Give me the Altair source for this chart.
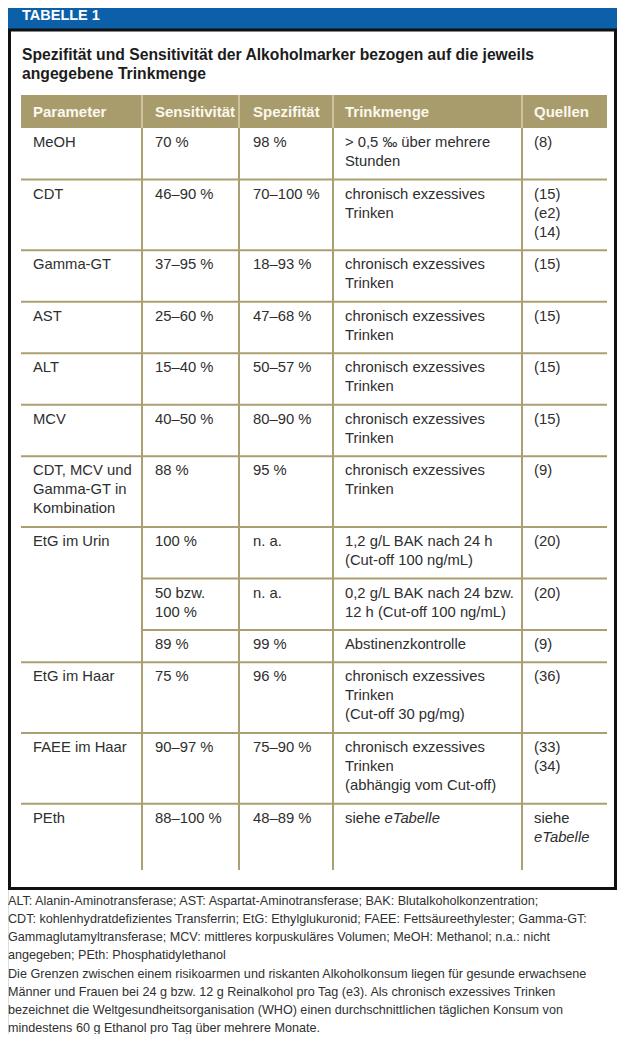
import altair as alt
import pandas as pd

# ---------------- content ----------------
table_title = "TABELLE 1"
subtitle_lines = [
    "Spezifität und Sensitivität der Alkoholmarker bezogen auf die jeweils",
    "angegebene Trinkmenge",
]
header_labels = ["Parameter", "Sensitivität", "Spezifität", "Trinkmenge", "Quellen"]

parameter = ["MeOH", "CDT", "Gamma-GT", "AST", "ALT", "MCV",
             "CDT, MCV und\nGamma-GT in\nKombination",
             "EtG im Urin", "", "", "EtG im Haar", "FAEE im Haar", "PEth"]
sensitivity = ["70 %", "46–90 %", "37–95 %", "25–60 %", "15–40 %", "40–50 %", "88 %",
               "100 %", "50 bzw.\n100 %", "89 %", "75 %", "90–97 %", "88–100 %"]
specificity = ["98 %", "70–100 %", "18–93 %", "47–68 %", "50–57 %", "80–90 %", "95 %",
               "n. a.", "n. a.", "99 %", "96 %", "75–90 %", "48–89 %"]
drinking = ["> 0,5 ‰ über mehrere\nStunden",
            "chronisch exzessives\nTrinken",
            "chronisch exzessives\nTrinken",
            "chronisch exzessives\nTrinken",
            "chronisch exzessives\nTrinken",
            "chronisch exzessives\nTrinken",
            "chronisch exzessives\nTrinken",
            "1,2 g/L BAK nach 24 h\n(Cut-off 100 ng/mL)",
            "0,2 g/L BAK nach 24 bzw.\n12 h (Cut-off 100 ng/mL)",
            "Abstinenzkontrolle",
            "chronisch exzessives\nTrinken\n(Cut-off 30 pg/mg)",
            "chronisch exzessives\nTrinken\n(abhängig vom Cut-off)",
            "siehe _eTabelle_"]
sources = ["(8)", "(15)\n(e2)\n(14)", "(15)", "(15)", "(15)", "(15)", "(9)",
           "(20)", "(20)", "(9)", "(36)", "(33)\n(34)", "siehe\n_eTabelle_"]
row_group = [0, 1, 2, 3, 4, 5, 6, 7, 7, 7, 8, 9, 10]

footnote_lines = [
    "ALT: Alanin-Aminotransferase; AST: Aspartat-Aminotransferase; BAK: Blutalkoholkonzentration;",
    "CDT: kohlenhydratdefizientes Transferrin; EtG: Ethylglukuronid; FAEE: Fettsäureethylester; Gamma-GT:",
    "Gammaglutamyltransferase; MCV: mittleres korpuskuläres Volumen; MeOH: Methanol; n.a.: nicht",
    "angegeben; PEth: Phosphatidylethanol",
    "Die Grenzen zwischen einem risikoarmen und riskanten Alkoholkonsum liegen für gesunde erwachsene",
    "Männer und Frauen bei 24 g bzw. 12 g Reinalkohol pro Tag (e3). Als chronisch exzessives Trinken",
    "bezeichnet die Weltgesundheitsorganisation (WHO) einen durchschnittlichen täglichen Konsum von",
    "mindestens 60 g Ethanol pro Tag über mehrere Monate.",
]

# ---------------- layout (pixel coordinates of the page) ----------------
M = 8
W, H = 609, 1026
FONT = "Liberation Sans, Arial, sans-serif"
BLUE = "#0b60a9"
GOLD = "#a99c6c"
GOLD_LINE = "#ab9f72"
TXT = "#2e2e2e"

col_edges = [21, 142, 239, 333, 522, 607]
col_pad = [12, 13, 14, 12, 12]
header_top, header_bot = 95, 128
table_bottom = 870
line_h = 19
cell_fs = 14.8

frame_l, frame_r, frame_b = M + 1.5, M + W - 1.5, 888.5

# approx Arial advance widths (per 1000 em) for inline offsets
_aw = {"s": 500, "i": 222, "e": 556, "h": 556, " ": 278}


def text_w(s, fs):
    return sum(_aw.get(c, 556) for c in s) * fs / 1000.0


xs = alt.Scale(domain=[M, M + W], range=[0, W])
ys = alt.Scale(domain=[M, M + H], range=[0, H])

# ---- rows
n_rows = len(parameter)
cols = [parameter, sensitivity, specificity, drinking, sources]
row_tops = []
y = header_bot
for r in range(n_rows):
    row_tops.append(y)
    n = max(len(c[r].split("\n")) for c in cols)
    y += 13 + 19.25 * n

texts = []
for r in range(n_rows):
    for ci, col in enumerate(cols):
        x0 = col_edges[ci] + col_pad[ci]
        for li, line in enumerate(col[r].split("\n")):
            if not line:
                continue
            yy = row_tops[r] + 15 + line_h * li
            if "_" in line:
                pre, it, post = line.split("_")
                if pre:
                    texts.append(dict(x=x0, y=yy, t=pre, k="cell"))
                texts.append(dict(x=x0 + text_w(pre, cell_fs), y=yy, t=it, k="cell_it"))
            else:
                texts.append(dict(x=x0, y=yy, t=line, k="cell"))

for ci, lab in enumerate(header_labels):
    texts.append(dict(x=col_edges[ci] + col_pad[ci], y=112, t=lab, k="header"))
texts.append(dict(x=22, y=16, t=table_title, k="title"))
for i, s in enumerate(subtitle_lines):
    texts.append(dict(x=22, y=55 + 18.5 * i, t=s, k="subtitle"))
for i, s in enumerate(footnote_lines):
    texts.append(dict(x=M, y=900.5 + 18.25 * i, t=s, k="foot"))
tdf = pd.DataFrame(texts)

# ---- rectangles
blue_df = pd.DataFrame([dict(x=M, x2=M + W, y=M, y2=30)])
frame_df = pd.DataFrame([dict(x=frame_l, x2=frame_r, y=30, y2=frame_b)])
head_df = pd.DataFrame([dict(x=col_edges[0], x2=col_edges[-1], y=header_top, y2=header_bot)])

# ---- lines
hl = []
for r in range(1, n_rows):
    same = row_group[r] == row_group[r - 1]
    hl.append(dict(x=col_edges[1] if same else col_edges[0], x2=col_edges[-1],
                   y=row_tops[r], y2=row_tops[r]))
hl_df = pd.DataFrame(hl)
vl_df = pd.DataFrame([dict(x=xx, x2=xx, y=header_bot, y2=table_bottom) for xx in col_edges[1:-1]])
hs_df = pd.DataFrame([dict(x=xx, x2=xx, y=header_top, y2=header_bot) for xx in col_edges[1:-1]])


def enc_rect(ch):
    return ch.encode(
        x=alt.X("x:Q", scale=xs, axis=None), x2="x2:Q",
        y=alt.Y("y:Q", scale=ys, axis=None), y2="y2:Q",
    )


blue = enc_rect(alt.Chart(blue_df).mark_rect(color=BLUE))
frame = enc_rect(alt.Chart(frame_df).mark_rect(fill=None, stroke="#111111", strokeWidth=3, filled=False))
head = enc_rect(alt.Chart(head_df).mark_rect(color=GOLD))
hlines = enc_rect(alt.Chart(hl_df).mark_rule(color=GOLD_LINE, strokeWidth=2))
vlines = enc_rect(alt.Chart(vl_df).mark_rule(color=GOLD_LINE, strokeWidth=2))
hsep = enc_rect(alt.Chart(hs_df).mark_rule(color="#e4dcc0", strokeWidth=1.2))


def text_layer(kind, font=FONT, **kw):
    return alt.Chart(tdf).transform_filter(alt.datum.k == kind).mark_text(
        align="left", baseline="middle", font=font, **kw
    ).encode(
        x=alt.X("x:Q", scale=xs, axis=None),
        y=alt.Y("y:Q", scale=ys, axis=None),
        text="t:N",
    )


layers = [
    blue, frame, head, hsep, hlines, vlines,
    text_layer("title", fontSize=14.5, fontWeight="bold", color="white"),
    text_layer("subtitle", fontSize=15.7, fontWeight="bold", color="#1c1c1c"),
    text_layer("header", fontSize=15, fontWeight="bold", color="#fbf8ee"),
    text_layer("cell", fontSize=cell_fs, color=TXT),
    text_layer("cell_it", fontSize=cell_fs, color=TXT, fontStyle="italic"),
    text_layer("foot", fontSize=12.6, color="#303030"),
]

chart = alt.layer(*layers).properties(
    width=W, height=H,
    autosize=alt.AutoSizeParams(type="none"),
    padding=0,
).configure_view(stroke=None).configure(background="white")

chart.save("out.html", embed_options={"renderer": "svg", "actions": False})
